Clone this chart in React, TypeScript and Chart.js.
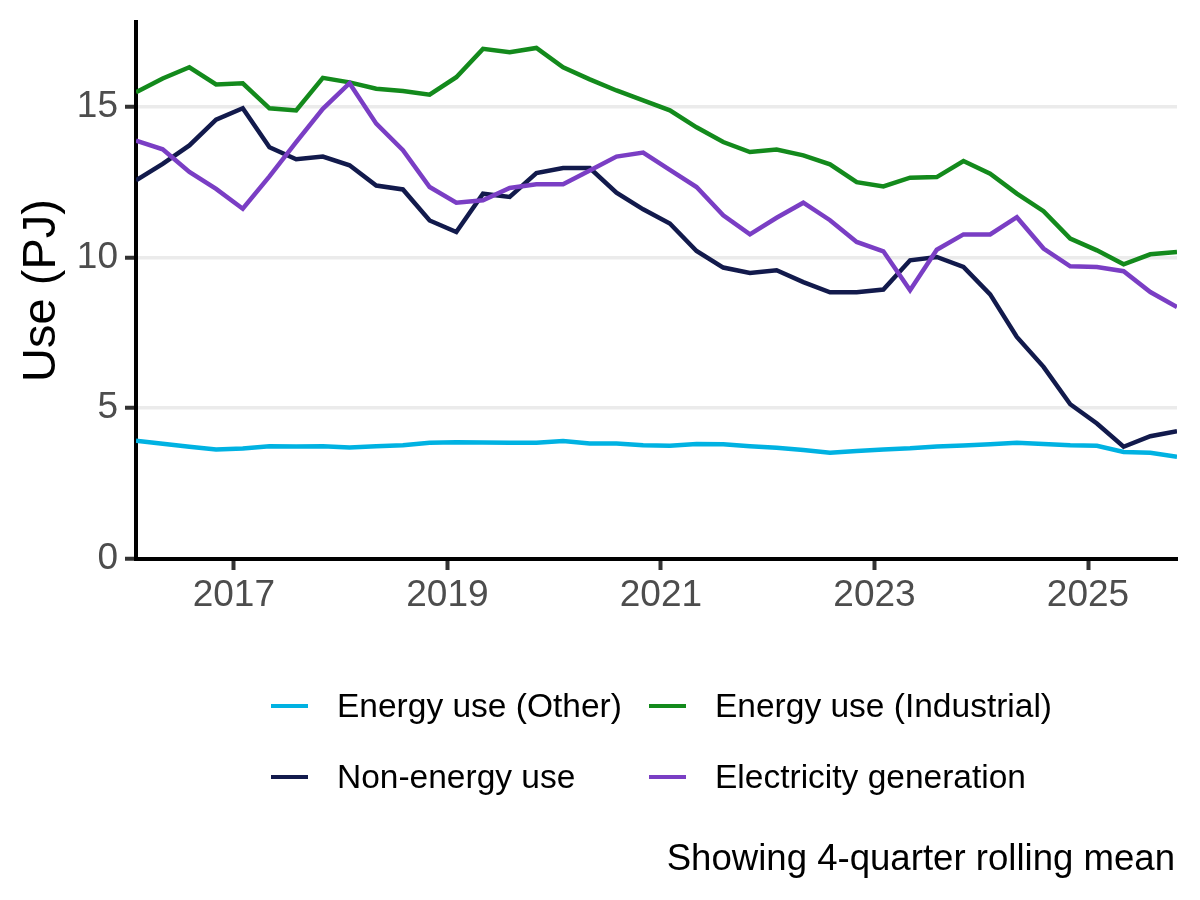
import React, { useEffect, useRef } from "react";
import { Chart, registerables } from "chart.js";

Chart.register(...registerables);

// quarters, plotted at the middle month of each quarter
const quarters = [
  "2016 Q1", "2016 Q2", "2016 Q3", "2016 Q4",
  "2017 Q1", "2017 Q2", "2017 Q3", "2017 Q4",
  "2018 Q1", "2018 Q2", "2018 Q3", "2018 Q4",
  "2019 Q1", "2019 Q2", "2019 Q3", "2019 Q4",
  "2020 Q1", "2020 Q2", "2020 Q3", "2020 Q4",
  "2021 Q1", "2021 Q2", "2021 Q3", "2021 Q4",
  "2022 Q1", "2022 Q2", "2022 Q3", "2022 Q4",
  "2023 Q1", "2023 Q2", "2023 Q3", "2023 Q4",
  "2024 Q1", "2024 Q2", "2024 Q3", "2024 Q4",
  "2025 Q1", "2025 Q2", "2025 Q3", "2025 Q4",
];

const energyOther = [
  3.92, 3.82, 3.72, 3.63, 3.66, 3.74, 3.73, 3.74, 3.70, 3.74,
  3.77, 3.85, 3.87, 3.86, 3.85, 3.85, 3.91, 3.83, 3.83, 3.77,
  3.75, 3.81, 3.80, 3.74, 3.69, 3.61, 3.52, 3.58, 3.63, 3.67,
  3.73, 3.76, 3.80, 3.85, 3.81, 3.77, 3.75, 3.55, 3.52, 3.39,
];
const energyIndustrial = [
  15.47, 15.93, 16.30, 15.73, 15.77, 14.94, 14.87, 15.95, 15.80, 15.59,
  15.51, 15.39, 15.97, 16.91, 16.80, 16.94, 16.30, 15.90, 15.53, 15.20,
  14.87, 14.31, 13.82, 13.49, 13.57, 13.38, 13.08, 12.49, 12.35, 12.64,
  12.66, 13.19, 12.77, 12.11, 11.53, 10.62, 10.23, 9.77, 10.10, 10.18,
];
const nonEnergy = [
  12.55, 13.10, 13.71, 14.56, 14.94, 13.65, 13.25, 13.34, 13.05, 12.38,
  12.25, 11.22, 10.84, 12.11, 12.00, 12.79, 12.96, 12.96, 12.14, 11.59,
  11.12, 10.21, 9.66, 9.48, 9.57, 9.18, 8.84, 8.84, 8.93, 9.90,
  10.01, 9.68, 8.77, 7.36, 6.37, 5.13, 4.49, 3.72, 4.07, 4.24,
];
const electricity = [
  13.87, 13.58, 12.83, 12.27, 11.61, 12.68, 13.82, 14.92, 15.77, 14.43,
  13.55, 12.33, 11.81, 11.89, 12.30, 12.42, 12.42, 12.88, 13.34, 13.47,
  12.90, 12.33, 11.39, 10.76, 11.31, 11.81, 11.23, 10.51, 10.20, 8.91,
  10.25, 10.76, 10.76, 11.33, 10.29, 9.70, 9.68, 9.54, 8.85, 8.35,
];

const yearTicks = [2017, 2019, 2021, 2023, 2025];
const yTicks = [0, 5, 10, 15];

const series = [
  { label: "Energy use (Other)", data: energyOther, color: "#00B2E2", order: 3 },
  { label: "Energy use (Industrial)", data: energyIndustrial, color: "#138A1C", order: 2 },
  { label: "Non-energy use", data: nonEnergy, color: "#121A4C", order: 1 },
  { label: "Electricity generation", data: electricity, color: "#7A3EC4", order: 0 },
];

const FONT = "'Liberation Sans', Arial, Helvetica, sans-serif";

function quarterToYear(q: string) {
  const [y, qq] = q.split(" Q");
  return Number(y) + (Number(qq) - 1) / 4 + 1 / 12;
}

const xs = quarters.map(quarterToYear);

export default function App() {
  const chartRef = useRef<HTMLCanvasElement | null>(null);

  useEffect(() => {
    const config: any = {
      type: "line",
      data: {
        datasets: series.map((s) => ({
          label: s.label,
          data: s.data.map((v, i) => ({ x: xs[i], y: v })),
          borderColor: s.color,
          backgroundColor: s.color,
          borderWidth: 4.5,
          pointRadius: 0,
          tension: 0,
          fill: false,
          order: s.order,
        })),
      },
      options: {
        animation: false,
        responsive: true,
        maintainAspectRatio: false,
        layout: { padding: { left: 0, right: 23, top: 22, bottom: 241 } },
        plugins: {
          legend: { display: false },
          tooltip: { enabled: false },
        },
        scales: {
          x: {
            type: "linear",
            min: xs[0],
            max: xs[xs.length - 1],
            afterBuildTicks: (scale: any) => {
              scale.ticks = yearTicks.map((v) => ({ value: v }));
            },
            afterFit: (scale: any) => {
              scale.height = 100;
              scale.paddingLeft = 0;
              scale.paddingRight = 0;
            },
            border: { display: true, color: "#000000", width: 4 },
            grid: {
              drawOnChartArea: false,
              tickLength: 11,
              tickColor: "#333333",
              tickWidth: 4,
            },
            ticks: {
              color: "#4D4D4D",
              padding: 4,
              maxRotation: 0,
              font: { family: FONT, size: 37 },
              callback: (v: number) => String(v),
            },
          },
          y: {
            min: 0,
            max: 17.8,
            afterBuildTicks: (scale: any) => {
              scale.ticks = yTicks.map((v) => ({ value: v }));
            },
            afterFit: (scale: any) => {
              scale.width = 136;
              scale.paddingTop = 0;
              scale.paddingBottom = 0;
            },
            border: { display: true, color: "#000000", width: 4 },
            grid: {
              color: (ctx: any) => (ctx.tick && ctx.tick.value === 0 ? "rgba(0,0,0,0)" : "#EBEBEB"),
              lineWidth: 3.5,
              tickLength: 11,
              tickColor: "#333333",
              tickWidth: 4,
            },
            ticks: {
              color: "#4D4D4D",
              padding: 7,
              font: { family: FONT, size: 37 },
            },
            title: {
              display: true,
              text: "Use (PJ)",
              color: "#000000",
              font: { family: FONT, size: 47 },
              padding: { top: 14, bottom: 0 },
            },
          },
        },
      },
    };

    const chartInstance = new Chart(chartRef.current as HTMLCanvasElement, config);
    return () => chartInstance.destroy();
  }, []);

  const rows = [
    [series[0], series[1]],
    [series[2], series[3]],
  ];
  const rowCenters = [706, 777];
  const colLeft = [271, 649];

  return (
    <div style={{ position: "absolute", left: 0, top: 0, width: 1200, height: 900, background: "#fff", fontFamily: FONT }}>
      <div style={{ position: "absolute", left: 0, top: 0, width: 1200, height: 900 }}>
        <canvas ref={chartRef}></canvas>
      </div>
      {/* Legend */}
      {rows.map((row, r) =>
        row.map((s, c) => (
          <div
            key={s.label}
            style={{
              position: "absolute",
              left: colLeft[c],
              top: rowCenters[r] - 20,
              height: 40,
              display: "flex",
              alignItems: "center",
            }}
          >
            <div style={{ width: 37, height: 4, background: s.color }}></div>
            <div style={{ marginLeft: 29, fontSize: 33.5, lineHeight: "40px", color: "#000", whiteSpace: "nowrap" }}>
              {s.label}
            </div>
          </div>
        ))
      )}
      <div
        style={{
          position: "absolute",
          right: 25,
          top: 838,
          fontSize: 36.6,
          lineHeight: "40px",
          color: "#000",
          whiteSpace: "nowrap",
        }}
      >
        Showing 4-quarter rolling mean
      </div>
    </div>
  );
}
